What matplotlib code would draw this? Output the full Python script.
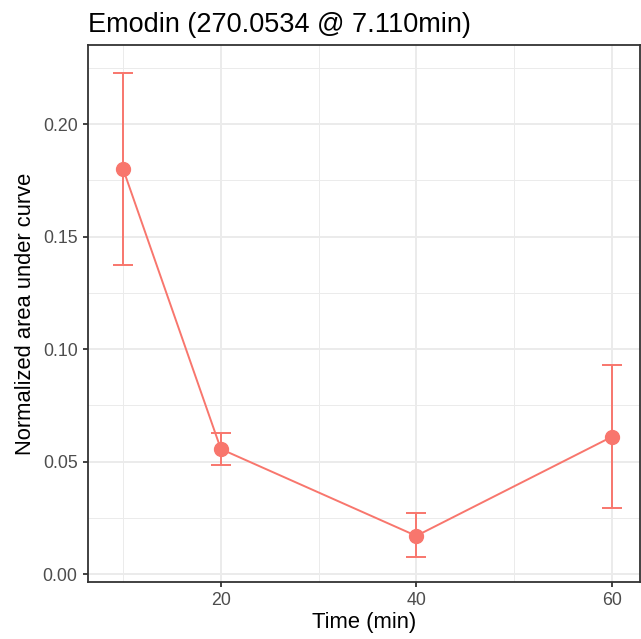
import matplotlib

matplotlib.use("Agg")
import matplotlib.pyplot as plt
from matplotlib.ticker import FixedLocator

# values
time_min = [10, 20, 40, 60]
auc_mean = [0.1800, 0.0556, 0.0170, 0.0610]
auc_low = [0.1376, 0.0486, 0.0075, 0.0293]
auc_high = [0.2226, 0.0627, 0.0271, 0.0930]

x_ticks = [20, 40, 60]
y_ticks = [0.00, 0.05, 0.10, 0.15, 0.20]
y_tick_labels = ["0.00", "0.05", "0.10", "0.15", "0.20"]

RED = "#F8766D"
plt.rcParams["font.family"] = ["Liberation Sans", "DejaVu Sans"]

fig = plt.figure(figsize=(6.41, 6.39), dpi=100)
ax = fig.add_axes([88 / 641, 1 - 582 / 639, 552 / 641, 537 / 639])

err_lo = [m - lo for m, lo in zip(auc_mean, auc_low)]
err_hi = [hi - m for m, hi in zip(auc_mean, auc_high)]
ax.errorbar(time_min, auc_mean, yerr=[err_lo, err_hi], fmt="none",
            ecolor=RED, elinewidth=1.4, capsize=7.2, capthick=1.4, zorder=3)
ax.plot(time_min, auc_mean, color=RED, linewidth=1.4, zorder=3)
ax.plot(time_min, auc_mean, "o", color=RED, markersize=10, zorder=4)

ax.set_xlim(6.4, 62.9)
ax.set_ylim(-0.0035, 0.2352)
ax.set_xticks(x_ticks)
ax.set_yticks(y_ticks)
ax.set_yticklabels(y_tick_labels)
ax.xaxis.set_minor_locator(FixedLocator([10, 30, 50]))
ax.yaxis.set_minor_locator(FixedLocator([0.025, 0.075, 0.125, 0.175, 0.225]))

ax.grid(which="major", color="#EBEBEB", linewidth=1.4, zorder=0)
ax.grid(which="minor", color="#EBEBEB", linewidth=0.7, zorder=0)
ax.set_axisbelow(True)

for s in ax.spines.values():
    s.set_color("#333333")
    s.set_linewidth(1.3)
ax.tick_params(which="major", length=3.5, width=1.3, color="#333333",
               labelcolor="#4D4D4D", labelsize=12.8, pad=4)
ax.tick_params(which="minor", length=0)

ax.set_xlabel("Time (min)", fontsize=15.8, color="black", labelpad=2)
ax.set_ylabel("Normalized area under curve", fontsize=15.8, color="black", labelpad=5)
ax.set_title("Emodin (270.0534 @ 7.110min)", fontsize=19.5, loc="left", pad=9)

fig.savefig("out.png", dpi=100)
